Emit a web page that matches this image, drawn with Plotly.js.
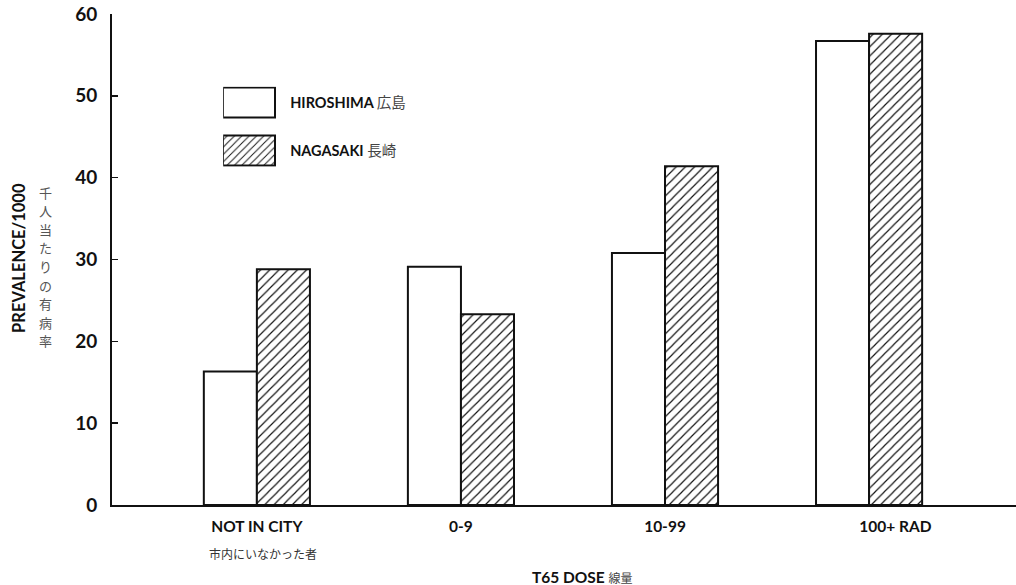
<!DOCTYPE html>
<html><head><meta charset="utf-8">
<script src="https://cdn.plot.ly/plotly-3.0.1.min.js"></script>
<style>html,body{margin:0;padding:0;background:#fff}</style>
</head><body><div id="chart" style="width:1016px;height:585px"></div>
<script>
const categories = ['NOT IN CITY', '0-9', '10-99', '100+ RAD'];
const tickLabels = [
  'NOT IN CITY',
  '0-9',
  '10-99',
  '\u00a0\u00a0\u00a0\u00a0\u00a0\u00a0\u00a0\u00a0\u00a0\u00a0\u00a0\u00a0\u00a0\u00a0100+ RAD'
];
const subLabelJa = '市内にいなかった者';
const hiroshima = [16.3, 29.1, 30.8, 56.7];
const nagasaki = [28.8, 23.3, 41.4, 57.6];
const seriesNames = [
  'HIROSHIMA <span style="font-weight:normal;color:#444">広島</span>',
  'NAGASAKI <span style="font-weight:normal;color:#444">長崎</span>'
];
const yTicks = [0, 10, 20, 30, 40, 50, 60];
const yTitle = 'PREVALENCE/1000';
const yTitleJa = '千人当たりの有病率';
const xTitle = 'T65 DOSE <span style="font-size:12px;font-weight:normal;color:#444">線量</span>';

const FONT = 'Lato, "Noto Sans CJK JP", sans-serif';
const PLOT_H = 491; // plot area height in px (for paper-coordinate text placement)

const traces = [
  {
    type: 'bar', x: categories, y: hiroshima, name: seriesNames[0], legendgroup: 'h',
    marker: {color: '#ffffff', line: {color: '#111', width: 2}}
  },
  {
    type: 'bar', x: categories, y: nagasaki, name: seriesNames[1], legendgroup: 'n',
    marker: {color: '#ffffff', line: {color: '#111', width: 2},
      pattern: {shape: '/', size: 6.5, solidity: 0.18, fgcolor: '#111', bgcolor: '#ffffff'}}
  }
];

const annotations = [
  {
    xref: 'paper', yref: 'paper', x: -0.103, y: 0.503, xanchor: 'center', yanchor: 'middle',
    text: yTitle, textangle: -90, showarrow: false,
    font: {size: 16.5, family: FONT, weight: 'bold', color: '#111'}
  },
  {
    xref: 'x', yref: 'paper', x: categories[0], xshift: 6, y: -48 / PLOT_H, xanchor: 'center', yanchor: 'middle',
    text: subLabelJa, showarrow: false,
    font: {size: 12, family: '"Noto Sans CJK JP", sans-serif', color: '#333'}
  },
  {
    xref: 'paper', yref: 'paper', x: 0.521, y: -72 / PLOT_H, xanchor: 'center', yanchor: 'middle',
    text: xTitle, showarrow: false,
    font: {size: 15.5, family: FONT, weight: 'bold', color: '#111'}
  }
];
// vertical (stacked, upright) Japanese axis caption, one glyph per row
Array.from(yTitleJa).forEach((ch, i) => {
  annotations.push({
    xref: 'paper', yref: 'paper', x: -0.074, y: (505 - 192 - i * 18.6) / PLOT_H,
    xanchor: 'center', yanchor: 'middle', text: ch, showarrow: false,
    font: {size: 13, family: '"Noto Sans CJK JP", sans-serif', color: '#555'}
  });
});

const layout = {
  width: 1016, height: 585,
  margin: {l: 112, r: 0, t: 14, b: 80},
  paper_bgcolor: '#ffffff', plot_bgcolor: '#ffffff',
  font: {family: FONT, color: '#111'},
  barmode: 'group', bargap: 0.48, bargroupgap: 0,
  showlegend: true,
  legend: {
    x: 0.123, y: 0.852, xanchor: 'left', yanchor: 'top',
    bgcolor: 'rgba(0,0,0,0)', borderwidth: 0,
    font: {size: 14.5, family: FONT, weight: 'bold'},
    itemwidth: 57, tracegroupgap: 26, traceorder: 'grouped'
  },
  xaxis: {
    type: 'category', range: [-0.71, 3.72],
    tickmode: 'array', tickvals: categories, ticktext: tickLabels,
    ticks: '', showgrid: false, zeroline: false,
    showline: true, linecolor: '#111', linewidth: 2,
    tickfont: {size: 15.5, family: FONT, weight: 'bold'},
    ticklabelstandoff: 6,
    fixedrange: true
  },
  yaxis: {
    range: [0, 60], tickmode: 'array', tickvals: yTicks,
    ticks: 'inside', ticklen: 6, tickwidth: 1.5, tickcolor: '#111',
    showgrid: false, zeroline: false,
    showline: true, linecolor: '#111', linewidth: 2,
    tickfont: {size: 19, family: FONT, weight: 'bold'},
    ticklabelstandoff: 9,
    fixedrange: true
  },
  annotations: annotations
};

Plotly.newPlot('chart', traces, layout, {staticPlot: true, displayModeBar: false}).then(gd => {
  // enlarge legend swatches to the wide boxes of the original figure
  const targetCenterX = 249, halfW = 26, halfH = 15;
  gd.querySelectorAll('.legend .legendpoints path').forEach(p => {
    const r = p.getBoundingClientRect();
    const cx = r.left + r.width / 2;
    const dx = targetCenterX - cx;
    p.setAttribute('d', `M${dx + halfW},${halfH}H${dx - halfW}V${-halfH}H${dx + halfW}Z`);
  });
});
</script></body></html>
